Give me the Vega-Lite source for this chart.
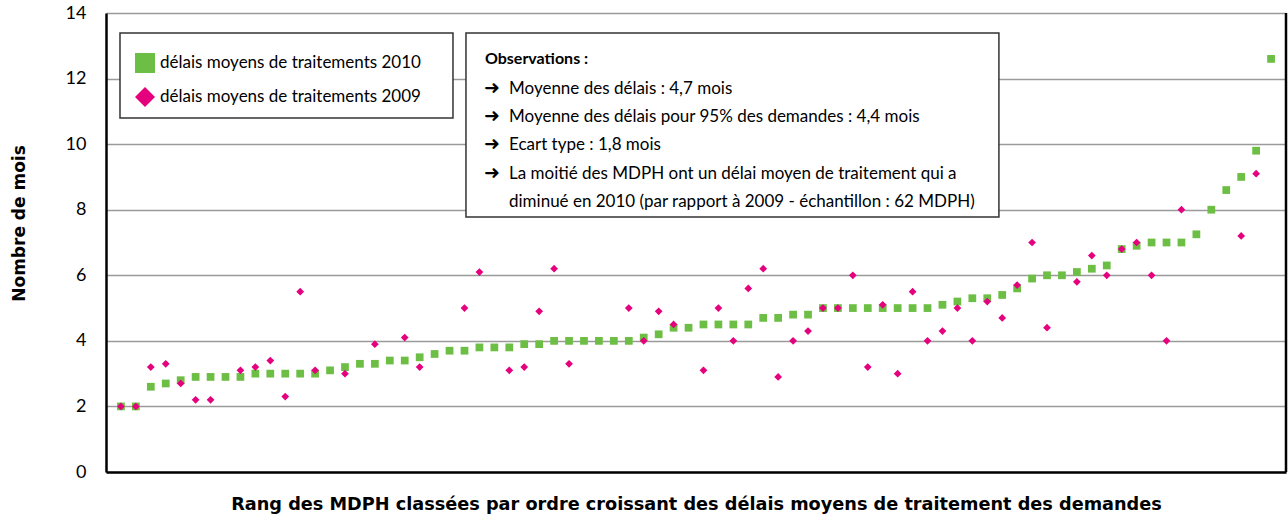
{
  "$schema": "https://vega.github.io/schema/vega-lite/v6.json",
  "width": 1180,
  "height": 459,
  "autosize": {"type": "none"},
  "padding": {"left": 106, "top": 13, "right": 2, "bottom": 47},
  "background": "white",
  "config": {"view": {"stroke": null}, "font": "Lato"},
  "resolve": {"axis": {"x": "independent", "y": "independent"}},
  "data": {
    "values": [
      {"rang": 1, "2010": 2.0, "2009": 2.0},
      {"rang": 2, "2010": 2.0, "2009": 2.0},
      {"rang": 3, "2010": 2.6, "2009": 3.2},
      {"rang": 4, "2010": 2.7, "2009": 3.3},
      {"rang": 5, "2010": 2.8, "2009": 2.7},
      {"rang": 6, "2010": 2.9, "2009": 2.2},
      {"rang": 7, "2010": 2.9, "2009": 2.2},
      {"rang": 8, "2010": 2.9, "2009": null},
      {"rang": 9, "2010": 2.9, "2009": 3.1},
      {"rang": 10, "2010": 3.0, "2009": 3.2},
      {"rang": 11, "2010": 3.0, "2009": 3.4},
      {"rang": 12, "2010": 3.0, "2009": 2.3},
      {"rang": 13, "2010": 3.0, "2009": 5.5},
      {"rang": 14, "2010": 3.0, "2009": 3.1},
      {"rang": 15, "2010": 3.1, "2009": null},
      {"rang": 16, "2010": 3.2, "2009": 3.0},
      {"rang": 17, "2010": 3.3, "2009": null},
      {"rang": 18, "2010": 3.3, "2009": 3.9},
      {"rang": 19, "2010": 3.4, "2009": null},
      {"rang": 20, "2010": 3.4, "2009": 4.1},
      {"rang": 21, "2010": 3.5, "2009": 3.2},
      {"rang": 22, "2010": 3.6, "2009": null},
      {"rang": 23, "2010": 3.7, "2009": null},
      {"rang": 24, "2010": 3.7, "2009": 5.0},
      {"rang": 25, "2010": 3.8, "2009": 6.1},
      {"rang": 26, "2010": 3.8, "2009": null},
      {"rang": 27, "2010": 3.8, "2009": 3.1},
      {"rang": 28, "2010": 3.9, "2009": 3.2},
      {"rang": 29, "2010": 3.9, "2009": 4.9},
      {"rang": 30, "2010": 4.0, "2009": 6.2},
      {"rang": 31, "2010": 4.0, "2009": 3.3},
      {"rang": 32, "2010": 4.0, "2009": null},
      {"rang": 33, "2010": 4.0, "2009": null},
      {"rang": 34, "2010": 4.0, "2009": null},
      {"rang": 35, "2010": 4.0, "2009": 5.0},
      {"rang": 36, "2010": 4.1, "2009": 4.0},
      {"rang": 37, "2010": 4.2, "2009": 4.9},
      {"rang": 38, "2010": 4.4, "2009": 4.5},
      {"rang": 39, "2010": 4.4, "2009": null},
      {"rang": 40, "2010": 4.5, "2009": 3.1},
      {"rang": 41, "2010": 4.5, "2009": 5.0},
      {"rang": 42, "2010": 4.5, "2009": 4.0},
      {"rang": 43, "2010": 4.5, "2009": 5.6},
      {"rang": 44, "2010": 4.7, "2009": 6.2},
      {"rang": 45, "2010": 4.7, "2009": 2.9},
      {"rang": 46, "2010": 4.8, "2009": 4.0},
      {"rang": 47, "2010": 4.8, "2009": 4.3},
      {"rang": 48, "2010": 5.0, "2009": 5.0},
      {"rang": 49, "2010": 5.0, "2009": 5.0},
      {"rang": 50, "2010": 5.0, "2009": 6.0},
      {"rang": 51, "2010": 5.0, "2009": 3.2},
      {"rang": 52, "2010": 5.0, "2009": 5.1},
      {"rang": 53, "2010": 5.0, "2009": 3.0},
      {"rang": 54, "2010": 5.0, "2009": 5.5},
      {"rang": 55, "2010": 5.0, "2009": 4.0},
      {"rang": 56, "2010": 5.1, "2009": 4.3},
      {"rang": 57, "2010": 5.2, "2009": 5.0},
      {"rang": 58, "2010": 5.3, "2009": 4.0},
      {"rang": 59, "2010": 5.3, "2009": 5.2},
      {"rang": 60, "2010": 5.4, "2009": 4.7},
      {"rang": 61, "2010": 5.6, "2009": 5.7},
      {"rang": 62, "2010": 5.9, "2009": 7.0},
      {"rang": 63, "2010": 6.0, "2009": 4.4},
      {"rang": 64, "2010": 6.0, "2009": null},
      {"rang": 65, "2010": 6.1, "2009": 5.8},
      {"rang": 66, "2010": 6.2, "2009": 6.6},
      {"rang": 67, "2010": 6.3, "2009": 6.0},
      {"rang": 68, "2010": 6.8, "2009": 6.8},
      {"rang": 69, "2010": 6.9, "2009": 7.0},
      {"rang": 70, "2010": 7.0, "2009": 6.0},
      {"rang": 71, "2010": 7.0, "2009": 4.0},
      {"rang": 72, "2010": 7.0, "2009": 8.0},
      {"rang": 73, "2010": 7.25, "2009": null},
      {"rang": 74, "2010": 8.0, "2009": null},
      {"rang": 75, "2010": 8.6, "2009": null},
      {"rang": 76, "2010": 9.0, "2009": 7.2},
      {"rang": 77, "2010": 9.8, "2009": 9.1},
      {"rang": 78, "2010": 12.6, "2009": null}
    ]
  },
  "layer": [
    {
      "data": {"values": [{}]},
      "mark": {"type": "rect", "fill": "white", "stroke": "#333333", "strokeWidth": 1.5},
      "encoding": {
        "x": {"datum": 0.937, "type": "quantitative", "axis": null, "scale": {"domain": [0, 79], "nice": false, "zero": false}},
        "x2": {"datum": 23.23},
        "y": {"datum": 13.39, "type": "quantitative", "axis": null, "scale": {"domain": [0, 14], "nice": false}},
        "y2": {"datum": 10.8}
      }
    },
    {
      "data": {"values": [{}]},
      "mark": {"type": "rect", "fill": "white", "stroke": "#333333", "strokeWidth": 1.5},
      "encoding": {
        "x": {"datum": 24.1, "type": "quantitative", "axis": null},
        "x2": {"datum": 59.78},
        "y": {"datum": 13.39, "type": "quantitative", "axis": null},
        "y2": {"datum": 7.78}
      }
    },
    {
      "data": {"values": [{}]},
      "mark": {"type": "text", "align": "left", "baseline": "alphabetic", "font": "Lato", "fontSize": 16, "fontWeight": "bold", "color": "black"},
      "encoding": {
        "x": {"datum": 25.37, "type": "quantitative", "axis": null},
        "y": {"datum": 12.44, "type": "quantitative", "axis": null},
        "text": {"value": "Observations :"}
      }
    },
    {
      "data": {"values": [{}]},
      "mark": {"type": "text", "align": "left", "baseline": "alphabetic", "font": "DejaVu Sans", "fontSize": 19, "lineHeight": 28.3, "color": "black"},
      "encoding": {
        "x": {"datum": 25.3, "type": "quantitative", "axis": null},
        "y": {"datum": 11.54, "type": "quantitative", "axis": null},
        "text": {"value": ["➜", "➜", "➜", "➜"]}
      }
    },
    {
      "data": {"values": [{}]},
      "mark": {"type": "text", "align": "left", "baseline": "alphabetic", "font": "Lato", "fontSize": 17, "lineHeight": 28.3, "color": "black"},
      "encoding": {
        "x": {"datum": 26.98, "type": "quantitative", "axis": null},
        "y": {"datum": 11.54, "type": "quantitative", "axis": null},
        "text": {"value": [
          "Moyenne des délais : 4,7 mois",
          "Moyenne des délais pour 95% des demandes : 4,4 mois",
          "Ecart type : 1,8 mois",
          "La moitié des MDPH ont un délai moyen de traitement qui a",
          "diminué en 2010 (par rapport à 2009 - échantillon : 62 MDPH)"
        ]}
      }
    },
    {
      "transform": [
        {"fold": ["2010", "2009"], "as": ["annee", "mois"]},
        {"filter": "isValid(datum.mois)"}
      ],
      "mark": {"type": "point", "filled": true, "opacity": 1, "size": 60},
      "encoding": {
        "x": {
          "field": "rang",
          "type": "quantitative",
          "scale": {"domain": [0, 79], "nice": false, "zero": false},
          "axis": {
            "title": "Rang des MDPH classées par ordre croissant des délais moyens de traitement des demandes",
            "labels": false,
            "ticks": false,
            "grid": false,
            "domainColor": "black",
            "domainWidth": 2.5,
            "titleFont": "DejaVu Sans",
            "titleFontWeight": "bold",
            "titleFontSize": 17.7,
            "titleColor": "black",
            "titlePadding": 23
          }
        },
        "y": {
          "field": "mois",
          "type": "quantitative",
          "scale": {"domain": [0, 14], "nice": false},
          "axis": {
            "title": "Nombre de mois",
            "values": [0, 2, 4, 6, 8, 10, 12, 14],
            "grid": true,
            "ticks": false,
            "labelPadding": 20,
            "labelFont": "Lato",
            "labelFontSize": 18,
            "labelColor": "black",
            "gridColor": "#9a9a9a",
            "gridWidth": 1.5,
            "domainColor": "black",
            "domainWidth": 2.5,
            "titleFont": "DejaVu Sans",
            "titleFontSize": 17,
            "titleFontWeight": "bold",
            "titleColor": "black",
            "titleX": -78,
            "titleY": 210
          }
        },
        "color": {
          "field": "annee",
          "type": "nominal",
          "scale": {"domain": ["2010", "2009"], "range": ["#6DBE45", "#E5007E"]},
          "legend": {
            "orient": "none",
            "direction": "vertical",
            "legendX": 29,
            "legendY": 40,
            "padding": 0,
            "title": null,
            "symbolSize": 400,
            "symbolStrokeWidth": 0,
            "labelFont": "Lato",
            "labelFontSize": 17,
            "labelColor": "black",
            "labelOffset": 5,
            "labelLimit": 0,
            "rowPadding": 14,
            "labelExpr": "'délais moyens de traitements ' + datum.label"
          }
        },
        "shape": {
          "field": "annee",
          "type": "nominal",
          "scale": {"domain": ["2010", "2009"], "range": ["square", "diamond"]},
          "legend": {
            "orient": "none",
            "direction": "vertical",
            "legendX": 29,
            "legendY": 40,
            "padding": 0,
            "title": null,
            "symbolSize": 400,
            "symbolStrokeWidth": 0,
            "labelFont": "Lato",
            "labelFontSize": 17,
            "labelColor": "black",
            "labelOffset": 5,
            "labelLimit": 0,
            "rowPadding": 14,
            "labelExpr": "'délais moyens de traitements ' + datum.label"
          }
        }
      }
    },
    {
      "data": {"values": [{}]},
      "mark": {"type": "rule", "color": "black", "strokeWidth": 2.5},
      "encoding": {
        "x": {"datum": 79, "type": "quantitative", "axis": null},
        "y": {"datum": 0, "type": "quantitative", "axis": null},
        "y2": {"datum": 14}
      }
    }
  ]
}
